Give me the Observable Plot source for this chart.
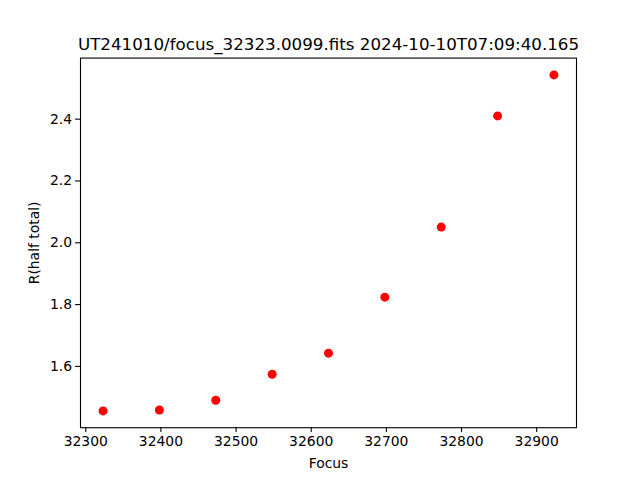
<!DOCTYPE html>
<html>
<head>
<meta charset="utf-8">
<script src="https://cdn.jsdelivr.net/npm/d3@7"></script>
<script src="https://cdn.jsdelivr.net/npm/@observablehq/plot@0.6"></script>
<style>
html, body { margin: 0; padding: 0; background: white; }
</style>
</head>
<body>
<div id="chart"></div>
<script>
const titleText = "UT241010/focus_32323.0099.fits 2024-10-10T07:09:40.165";
const focus = [32323, 32398, 32473, 32548, 32623, 32698, 32773, 32848, 32923];
const rHalfTotal = [1.456, 1.459, 1.4905, 1.5747, 1.6428, 1.8241, 2.0508, 2.4104, 2.5432];
const xTicks = [32300, 32400, 32500, 32600, 32700, 32800, 32900];
const yTicks = [1.6, 1.8, 2.0, 2.2, 2.4];
const xLabel = "Focus";
const yLabel = "R(half total)";

const data = focus.map((f, i) => ({focus: f, r: rHalfTotal[i]}));

function padded(vals) {
  const lo = d3.min(vals), hi = d3.max(vals), m = 0.05 * (hi - lo);
  return [lo - m, hi + m];
}

const chart = Plot.plot({
  width: 640,
  height: 480,
  marginLeft: 80,
  marginRight: 64,
  marginTop: 57.6,
  marginBottom: 52.8,
  style: {fontFamily: "DejaVu Sans", fontSize: "13.9px", background: "white", color: "black"},
  x: {domain: padded(focus)},
  y: {domain: padded(rHalfTotal)},
  marks: [
    Plot.frame({stroke: "black", strokeWidth: 1.1}),
    Plot.axisX(xTicks, {tickSize: 4.9, tickPadding: 3.5, tickFormat: d3.format("d"), strokeWidth: 1.1,
      label: xLabel, labelAnchor: "center", labelArrow: "none", labelOffset: 40, fontSize: 13.9}),
    Plot.axisY(yTicks, {tickSize: 4.9, tickPadding: 3.5, tickFormat: d3.format(".1f"), strokeWidth: 1.1,
      label: yLabel, labelAnchor: "center", labelArrow: "none", labelOffset: 51, fontSize: 13.9}),
    Plot.dot(data, {x: "focus", y: "r", r: 4.5, fill: "#ff0000", stroke: null}),
    Plot.text([titleText], {frameAnchor: "top", lineAnchor: "bottom", dy: -8, fontSize: 16.7, fill: "black"})
  ]
});
document.getElementById("chart").appendChild(chart);
</script>
</body>
</html>
